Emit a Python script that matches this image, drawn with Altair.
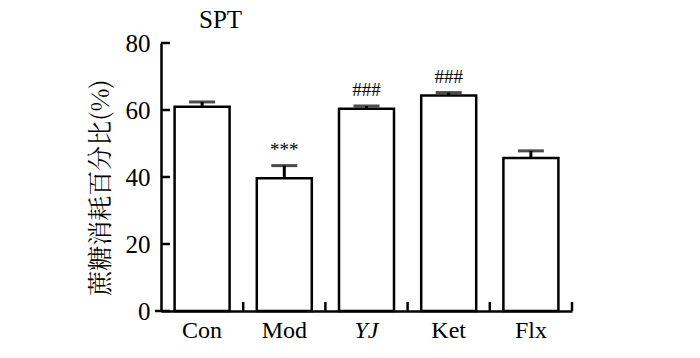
import altair as alt
import pandas as pd

groups = ["Con", "Mod", "YJ", "Ket", "Flx"]
means = [61.0, 39.6, 60.4, 64.3, 45.7]
errors = [1.4, 3.8, 0.8, 0.9, 2.1]
marks = ["", "***", "###", "###", ""]
y_ticks = [0, 20, 40, 60, 80]

df = pd.DataFrame({"group": groups, "mean": means, "err": errors, "mark": marks})
df["upper"] = df["mean"] + df["err"]
ticks_df = pd.DataFrame({"v": y_ticks})

SERIF = "Liberation Serif"
W, H = 411, 268

x_enc = alt.X("group:N", sort=groups,
              scale=alt.Scale(paddingInner=0, paddingOuter=0),
              axis=alt.Axis(title=None, labelAngle=0, labelFont=SERIF, labelFontSize=24,
                            labelColor="black", labelPadding=7, ticks=False,
                            domainColor="black", domainWidth=2.5,
                            labelFontStyle={"condition": {"test": "datum.value == 'YJ'", "value": "italic"},
                                            "value": "normal"}))
y_scale = alt.Scale(domain=[0, 80], nice=False)

base = alt.Chart(df)

bars = base.mark_bar(size=55, fill="white", stroke="black", strokeWidth=2.5).encode(
    x=x_enc,
    y=alt.Y("mean:Q", scale=y_scale,
            axis=alt.Axis(title="蔗糖消耗百分比(%)", values=y_ticks, ticks=False, tickSize=0,
                          labelFont=SERIF, labelFontSize=25, labelColor="black", labelPadding=11,
                          grid=False, domainColor="black", domainWidth=2.5,
                          titleFont="Noto Serif CJK SC, Noto Sans CJK SC", titleFontSize=25,
                          titleFontWeight="normal", titleColor="#000000", titleAngle=270,
                          titleAlign="center", titleBaseline="middle", titleX=-61, titleY=144)),
)

err_rule = base.mark_rule(color="black", strokeWidth=3).encode(
    x=alt.X("group:N", sort=groups), y="mean:Q", y2="upper:Q")
err_cap = base.mark_tick(color="black", thickness=3, size=26, orient="horizontal").encode(
    x=alt.X("group:N", sort=groups), y="upper:Q")

annot = base.mark_text(font=SERIF, fontSize=19, color="black", baseline="alphabetic", dy=-10).encode(
    x=alt.X("group:N", sort=groups), y="upper:Q", text="mark:N")

x_ticks = base.mark_rule(color="black", strokeWidth=2.5).encode(
    x=alt.X("group:N", sort=groups, bandPosition=1),
    y=alt.value(H), y2=alt.value(H - 9))

y_tick_marks = alt.Chart(ticks_df).mark_rule(color="black", strokeWidth=2.5).encode(
    y=alt.Y("v:Q", scale=y_scale), x=alt.value(0), x2=alt.value(9))

zero_ext = alt.Chart(pd.DataFrame({"v": [0]})).mark_rule(color="black", strokeWidth=2.5).encode(
    y=alt.Y("v:Q", scale=y_scale), x=alt.value(-6), x2=alt.value(0))

chart = alt.layer(bars, err_rule, err_cap, annot, x_ticks, y_tick_marks, zero_ext).properties(
    width=W, height=H,
    autosize=alt.AutoSizeParams(type="none"),
    padding={"left": 153, "top": 35, "right": 120, "bottom": 40},
    title=alt.TitleParams("SPT", font=SERIF, fontSize=25, fontWeight="normal", color="black",
                          anchor="start", frame="group", dx=38, offset=-2),
).configure_view(stroke=None)

chart.save("out.html", embed_options={"renderer": "svg", "actions": False})
